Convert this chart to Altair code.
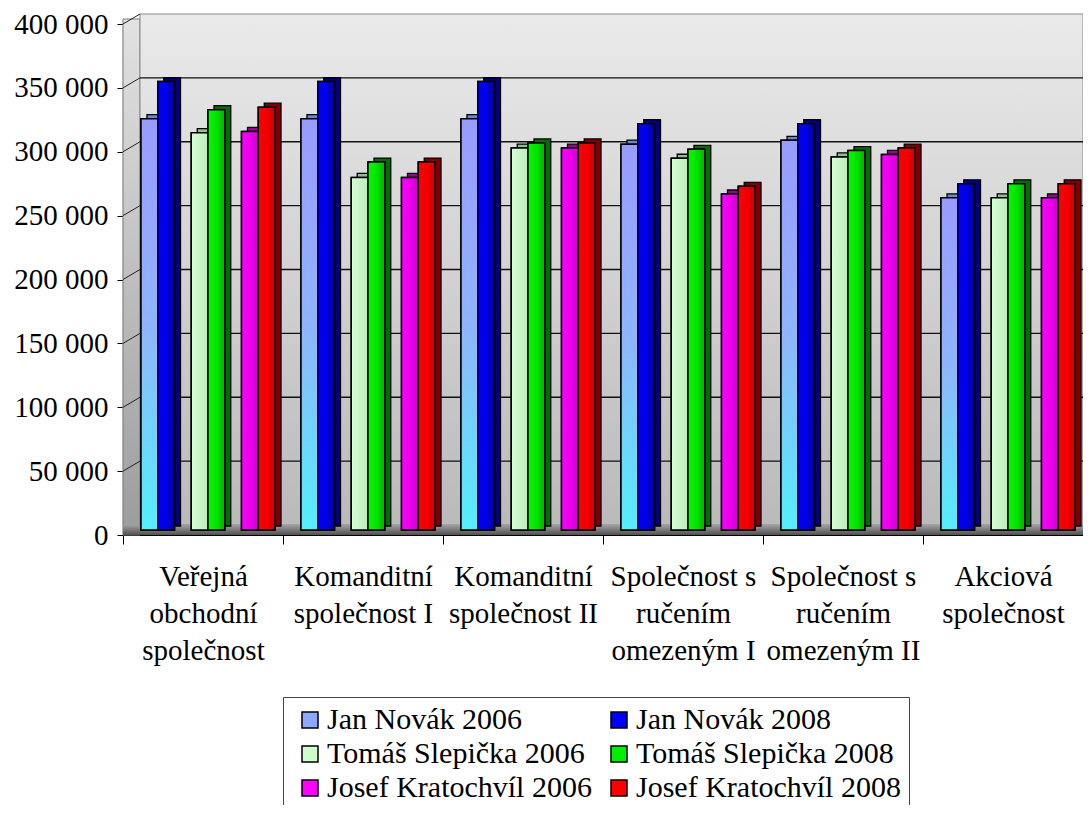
import altair as alt
import pandas as pd

# ---------------- data ----------------
categories = [
    "Veřejná|obchodní|společnost",
    "Komanditní|společnost I",
    "Komanditní|společnost II",
    "Společnost s|ručením|omezeným I",
    "Společnost s|ručením|omezeným II",
    "Akciová|společnost",
]
series = [
    "Jan Novák 2006", "Jan Novák 2008",
    "Tomáš Slepička 2006", "Tomáš Slepička 2008",
    "Josef Kratochvíl 2006", "Josef Kratochvíl 2008",
]
jan_2006 = [322000, 322000, 322000, 302000, 305000, 260000]
jan_2008 = [351000, 351000, 351000, 318000, 318000, 271000]
tomas_2006 = [311000, 276000, 299000, 291000, 292000, 260000]
tomas_2008 = [329000, 288000, 303000, 298000, 297000, 271000]
josef_2006 = [312000, 276000, 299000, 263000, 294000, 260000]
josef_2008 = [331000, 288000, 303000, 269000, 299000, 271000]
y_ticks = [0, 50000, 100000, 150000, 200000, 250000, 300000, 350000, 400000]

all_values = [jan_2006, jan_2008, tomas_2006, tomas_2008, josef_2006, josef_2008]
rows = []
for s, vals in zip(series, all_values):
    for c, v in zip(categories, vals):
        rows.append({"category": c, "series": s, "value": v})
df = pd.DataFrame(rows)
grid_df = pd.DataFrame({"v": y_ticks})

# slot order inside each category (two empty slots separate the people)
slots = [series[0], series[1], "gap1", series[2], series[3], "gap2", series[4], series[5]]
# legend grid fills column by column -> order so it reads row by row
legend_order = [series[0], series[2], series[4], series[1], series[3], series[5]]

# ---------------- style ----------------
FONT = "Liberation Serif"
W, H = 960, 511
DX, DY = 6, 4          # pseudo 3-D depth of bars
WALL = 17              # side wall depth (px)
WALL_DY = 10

flat_colors = {
    series[0]: "#8fa8ff", series[1]: "#0000ff", series[2]: "#ccffcc",
    series[3]: "#00ee00", series[4]: "#ff00ff", series[5]: "#ff0000",
}
dark_colors = ["#6a88c8", "#000080", "#8fbf8f", "#006e00", "#990099", "#800000"]


def grad(c1, c2, vertical=False, mid=None):
    stops = [alt.GradientStop(color=c1, offset=0)]
    if mid:
        stops.append(alt.GradientStop(color=mid, offset=0.5))
    stops.append(alt.GradientStop(color=c2, offset=1))
    if vertical:
        return alt.Gradient(gradient="linear", stops=stops, x1=0, x2=0, y1=0, y2=1)
    return alt.Gradient(gradient="linear", stops=stops, x1=0, x2=1, y1=0, y2=0)


bar_grads = [
    grad("#9a9aff", "#55eeff", vertical=True, mid="#8fb4ff"),
    grad("#0000ff", "#00009a", mid="#0000e6"),
    grad("#d4ffd4", "#bdecbd"),
    grad("#00ff00", "#00b400", mid="#00e400"),
    grad("#ff00ff", "#d400d4"),
    grad("#ff0000", "#d20000", mid="#f00000"),
]

yaxis = alt.Axis(
    title=None, values=y_ticks,
    labelExpr="replace(format(datum.value, ',d'), ',', ' ')",
    labelFont=FONT, labelFontSize=29, labelColor="black", labelPadding=9,
    tickSize=6, tickColor="black", domainColor="#333333", domainWidth=1.2, grid=False,
)
yscale = alt.Scale(domain=[0, 400000], nice=False, zero=True)
xscale = alt.Scale(domain=categories, paddingInner=0, paddingOuter=0)
off_front = alt.Scale(domain=slots, paddingInner=0, paddingOuter=0, range=[18, 152])
off_back = alt.Scale(domain=slots, paddingInner=0, paddingOuter=0, range=[18 + DX, 152 + DX])

one = pd.DataFrame({"a": [0]})

left_wall = alt.Chart(one).mark_rect(
    color=grad("#e2e2e2", "#9c9c9c", vertical=True), stroke="#7a7a7a", strokeWidth=1
).encode(x=alt.value(0), x2=alt.value(WALL), y=alt.value(-WALL_DY / 2), y2=alt.value(H))

back_wall = alt.Chart(one).mark_rect(
    color=grad("#eaeaea", "#bababa", vertical=True), stroke="#8a8a8a", strokeWidth=1
).encode(x=alt.value(WALL), x2=alt.value(W), y=alt.value(-WALL_DY), y2=alt.value(H - WALL_DY))

floor = alt.Chart(one).mark_rect(
    color=grad("#a0a0a0", "#505050", vertical=True)
).encode(x=alt.value(0), x2=alt.value(W), y=alt.value(H - WALL_DY), y2=alt.value(H))

gridlines = alt.Chart(grid_df).transform_filter(
    (alt.datum.v > 0) & (alt.datum.v < 400000)
).mark_rule(color="#111111", strokeWidth=1.3, yOffset=-WALL_DY).encode(
    y=alt.Y("v:Q", scale=yscale, axis=yaxis), x=alt.value(WALL), x2=alt.value(W)
)

diagonals = alt.Chart(grid_df).transform_filter(alt.datum.v > 0).mark_rule(
    color="#222222", strokeWidth=1, y2Offset=-WALL_DY
).encode(
    y=alt.Y("v:Q", scale=yscale, axis=yaxis), y2="v:Q", x=alt.value(0), x2=alt.value(WALL)
)

x_enc = alt.X(
    "category:N", scale=xscale, sort=categories,
    axis=alt.Axis(
        title=None, labelExpr="split(datum.label, '|')", labelAngle=0,
        labelFont=FONT, labelFontSize=29, labelLineHeight=37, labelColor="black",
        labelPadding=18, labelOverlap=False, labelBound=False, labelLimit=400,
        tickSize=9, tickBand="extent", tickColor="black", domainColor="black",
        domainWidth=1.2, tickWidth=1, grid=False,
    ),
)

back_bars = alt.Chart(df).mark_bar(
    stroke="black", strokeWidth=1.3, yOffset=-5 - DY, y2Offset=-5 - DY
).encode(
    x=x_enc, xOffset=alt.XOffset("series:N", scale=off_back),
    y=alt.Y("value:Q", scale=yscale, axis=yaxis),
    color=alt.Color("series:N", scale=alt.Scale(domain=series, range=dark_colors), legend=None),
)

front_bars = alt.Chart(df).mark_bar(
    stroke="black", strokeWidth=1.5, yOffset=-5, y2Offset=-5
).encode(
    x=x_enc, xOffset=alt.XOffset("series:N", scale=off_front),
    y=alt.Y("value:Q", scale=yscale, axis=yaxis),
    color=alt.Color(
        "series:N",
        scale=alt.Scale(domain=legend_order, range=[flat_colors[s] for s in legend_order]),
        legend=alt.Legend(
            title=None, orient="none", legendX=160, legendY=673, columns=2,
            symbolType="square", symbolSize=256, symbolStrokeColor="black",
            symbolStrokeWidth=1.5, symbolOpacity=1,
            labelFont=FONT, labelFontSize=30, labelColor="black", labelLimit=400,
            labelOffset=2, symbolOffset=4, rowPadding=4, columnPadding=8,
            padding=8, strokeColor="#444444", fillColor="white",
        ),
    ),
)

overlays = []
for s, g in zip(series, bar_grads):
    overlays.append(
        alt.Chart(df).transform_filter(alt.datum.series == s).mark_bar(
            color=g, stroke="black", strokeWidth=1.5, yOffset=-5, y2Offset=-5
        ).encode(
            x=x_enc, xOffset=alt.XOffset("series:N", scale=off_front),
            y=alt.Y("value:Q", scale=yscale, axis=yaxis),
        )
    )

chart = alt.layer(
    left_wall, back_wall, floor, gridlines, diagonals, back_bars, front_bars, *overlays
).resolve_scale(color="independent", xOffset="independent").properties(
    width=W, height=H,
    autosize=alt.AutoSizeParams(type="none"),
    padding={"left": 115, "top": 16, "right": 0, "bottom": 270},
    background="white",
).configure(font=FONT).configure_axis(labelFont=FONT).configure_legend(
    labelFont=FONT
).configure_view(stroke=None)

chart.save("out.html", embed_options={"renderer": "svg", "actions": False})
